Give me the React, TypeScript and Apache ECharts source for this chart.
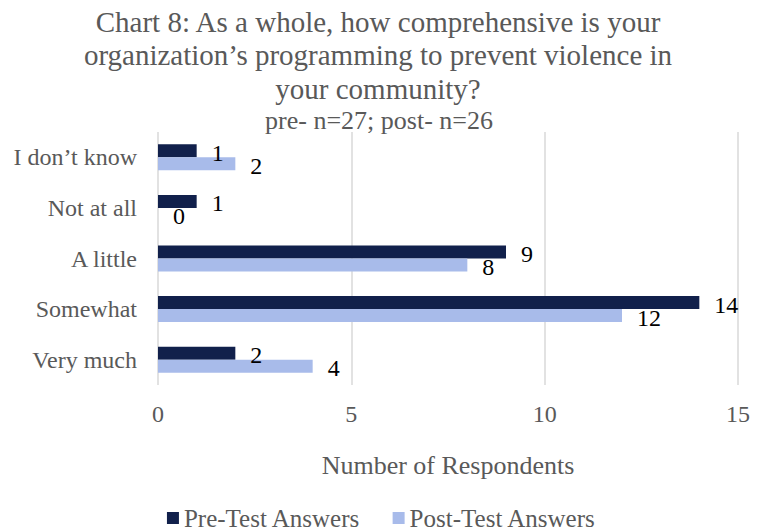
import React, { useEffect, useRef } from "react";
import * as echarts from "echarts";

const categories = ["I don’t know", "Not at all", "A little", "Somewhat", "Very much"];
const preValues = [1, 1, 9, 14, 2];
const postValues = [2, 0, 8, 12, 4];
const seriesNames = ["Pre-Test Answers", "Post-Test Answers"];
const titleLines = [
  "Chart 8: As a whole, how comprehensive is your",
  "organization’s programming to prevent violence in",
  "your community?",
];
const subtitle = "pre- n=27; post- n=26";
const axisName = "Number of Respondents";

const FONT = "'Liberation Serif', 'Times New Roman', serif";
const GREY = "#595959";

export default function App() {
  const ref = useRef<HTMLDivElement>(null);
  useEffect(() => {
    document.body.style.margin = "0";
    if (!ref.current) return;
    const chart = echarts.init(ref.current, null, { renderer: "svg" });
    const label = {
      show: true,
      position: "right",
      distance: 15,
      offset: [0, 2],
      fontSize: 24,
      fontFamily: FONT,
      color: "#000000",
    };
    chart.setOption({
      animation: false,
      backgroundColor: "#ffffff",
      title: [
        {
          text: titleLines.join("\n"),
          left: 373,
          top: 0,
          textAlign: "center",
          textStyle: {
            fontFamily: FONT,
            fontSize: 29,
            fontWeight: "normal",
            color: GREY,
            lineHeight: 33.5,
            align: "center",
          },
        },
        {
          text: subtitle,
          left: 374,
          top: 102,
          textAlign: "center",
          textStyle: {
            fontFamily: FONT,
            fontSize: 26,
            fontWeight: "normal",
            color: GREY,
            lineHeight: 26,
          },
        },
      ],
      legend: {
        top: 500,
        left: "center",
        itemWidth: 12,
        itemHeight: 12,
        itemGap: 32,
        icon: "rect",
        textStyle: { fontFamily: FONT, fontSize: 25, color: GREY, lineHeight: 26 },
        data: seriesNames,
      },
      grid: { left: 158, right: 25, top: 132, height: 253, containLabel: false },
      xAxis: {
        type: "value",
        min: 0,
        max: 15,
        interval: 5,
        name: axisName,
        nameLocation: "middle",
        nameGap: 67,
        nameTextStyle: { fontFamily: FONT, fontSize: 26, color: GREY },
        axisLine: { show: false },
        axisTick: { show: false },
        axisLabel: { fontFamily: FONT, fontSize: 24, color: GREY, margin: 17 },
        splitLine: { show: true, lineStyle: { color: "#d9d9d9", width: 1.5 } },
      },
      yAxis: {
        type: "category",
        inverse: true,
        data: categories,
        axisLine: { show: false },
        axisTick: { show: false },
        axisLabel: { fontFamily: FONT, fontSize: 24, color: GREY, margin: 21 },
      },
      series: [
        {
          name: seriesNames[0],
          type: "bar",
          data: preValues,
          barWidth: 13,
          barGap: "0%",
          itemStyle: { color: "#11204b" },
          label,
        },
        {
          name: seriesNames[1],
          type: "bar",
          data: postValues,
          barWidth: 13,
          barGap: "0%",
          itemStyle: { color: "#a8bbea" },
          label,
        },
      ],
    });
    return () => chart.dispose();
  }, []);
  return <div ref={ref} style={{ width: 763, height: 531 }} />;
}
